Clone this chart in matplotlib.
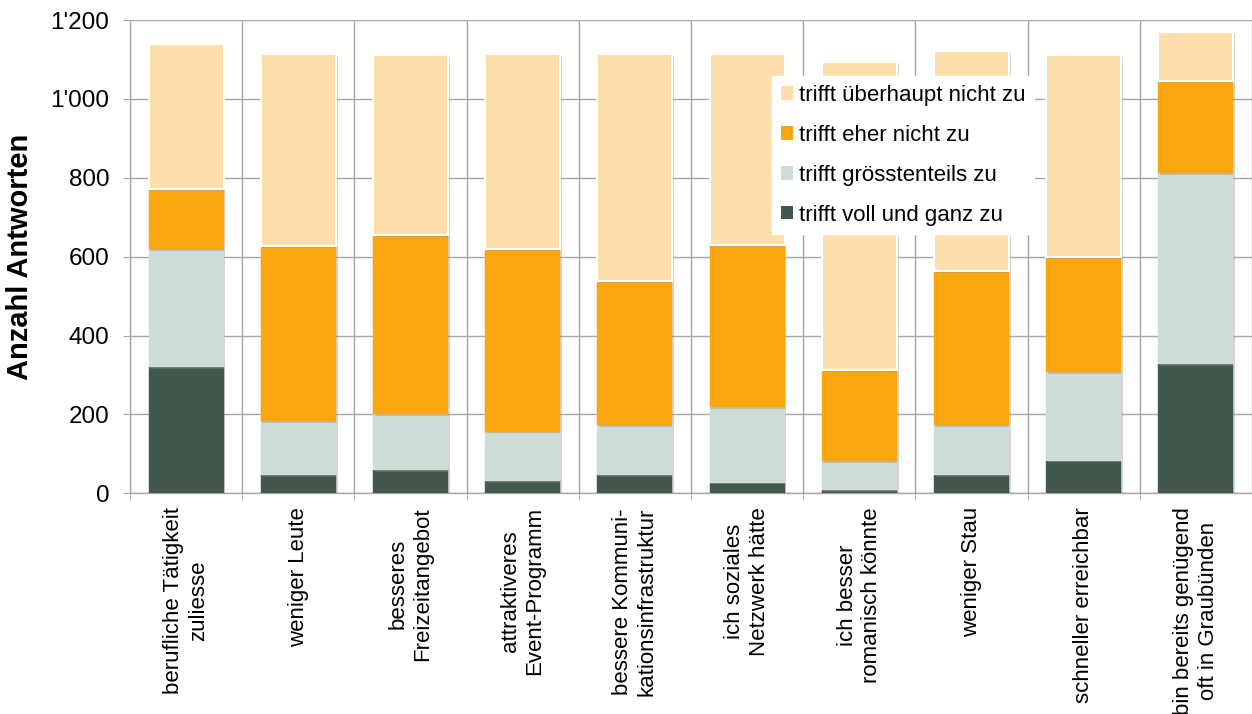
import matplotlib
matplotlib.use("Agg")
import matplotlib.pyplot as plt
import numpy as np
from matplotlib.ticker import FuncFormatter, FixedLocator
from matplotlib import patheffects as pe

plt.rcParams['font.family'] = ['Liberation Sans', 'DejaVu Sans']

categories = [
    "berufliche Tätigkeit\nzuliesse",
    "weniger Leute",
    "besseres\nFreizeitangebot",
    "attraktiveres\nEvent-Programm",
    "bessere Kommuni-\nkationsinfrastruktur",
    "ich soziales\nNetzwerk hätte",
    "ich besser\nromanisch könnte",
    "weniger Stau",
    "schneller erreichbar",
    "bin bereits genügend\noft in Graubünden",
]

voll_und_ganz = [320, 46, 59, 30, 46, 27, 8, 46, 83, 327]
groesstenteils = [299, 137, 141, 126, 127, 192, 74, 127, 224, 485]
eher_nicht = [152, 444, 455, 463, 365, 410, 231, 391, 291, 234]
ueberhaupt_nicht = [368, 487, 455, 494, 575, 484, 781, 557, 512, 123]

series_labels = [
    "trifft voll und ganz zu",
    "trifft grösstenteils zu",
    "trifft eher nicht zu",
    "trifft überhaupt nicht zu",
]
series_colors = ["#43584C", "#CEDCD5", "#FCA60F", "#FEDFAC"]

fig = plt.figure(figsize=(12.52, 7.14), dpi=100)
W, H = 1252, 714
left_px, right_px, top_px, bottom_px = 130, 1252, 20, 493.3
cat_w = 113.9
ax = fig.add_axes([left_px / W, (H - bottom_px) / H,
                   (right_px - left_px) / W, (bottom_px - top_px) / H])

x = np.arange(len(categories))
bottoms = np.zeros(len(categories))
shadow = [pe.SimplePatchShadow(offset=(1.2, -1.2), shadow_rgbFace="#888888", alpha=0.35),
          pe.Normal()]
handles = []
for vals, lab, col in zip([voll_und_ganz, groesstenteils, eher_nicht, ueberhaupt_nicht],
                          series_labels, series_colors):
    vals = np.array(vals, dtype=float)
    is_top = col == "#FEDFAC"
    bars = ax.bar(x, vals, 0.67, bottom=bottoms, color=col, label=lab,
                  edgecolor="white" if is_top else col,
                  linewidth=1.5 if is_top else 0.3, zorder=3)
    for b in bars:
        b.set_path_effects(shadow)
    handles.append(bars)
    bottoms += vals

ax.set_ylim(0, 1200)
ax.set_xlim(-0.5, -0.5 + (right_px - left_px) / cat_w)
ax.yaxis.set_major_locator(FixedLocator(np.arange(0, 1201, 200)))
ax.yaxis.set_major_formatter(FuncFormatter(lambda v, p: f"{int(v):,}".replace(",", "'")))

ax.set_xticks(x)
ax.set_xticklabels(categories, rotation=90, ha="center", va="top",
                   multialignment="center", fontsize=16)
ax.set_xticks(np.arange(-0.5, len(categories) + 0.5, 1), minor=True)

grid_col = "#A6A6A6"
ax.grid(axis="y", which="major", color=grid_col, linewidth=1, zorder=0)
ax.grid(axis="x", which="minor", color=grid_col, linewidth=1, zorder=0)
ax.set_axisbelow(True)

for s in ["top", "right"]:
    ax.spines[s].set_visible(False)
for s in ["left", "bottom"]:
    ax.spines[s].set_color(grid_col)
    ax.spines[s].set_linewidth(1)

ax.tick_params(axis="x", which="major", length=0, pad=10)
ax.tick_params(axis="x", which="minor", length=5, color=grid_col, direction="out")
ax.tick_params(axis="y", length=5, color=grid_col, direction="out", pad=10,
               labelsize=17.5)

ax.set_ylabel("Anzahl Antworten", fontsize=21, fontweight="bold")
ax.yaxis.set_label_coords(-0.0856, 0.5)

leg_handles = handles[::-1]
leg_labels = series_labels[::-1]
leg = ax.legend(leg_handles, leg_labels, loc="upper left",
                bbox_to_anchor=(772 / W, 1 - 76 / H), bbox_transform=fig.transFigure,
                frameon=True, fancybox=False, framealpha=1, edgecolor="white",
                fontsize=16, handlelength=0.55, handleheight=0.55,
                handletextpad=0.25, labelspacing=0.85, borderpad=0.4,
                borderaxespad=0)
leg.set_zorder(10)
for h in leg.legend_handles:
    h.set_path_effects([])
    h.set_linewidth(0)

fig.savefig("out.png", dpi=100)
